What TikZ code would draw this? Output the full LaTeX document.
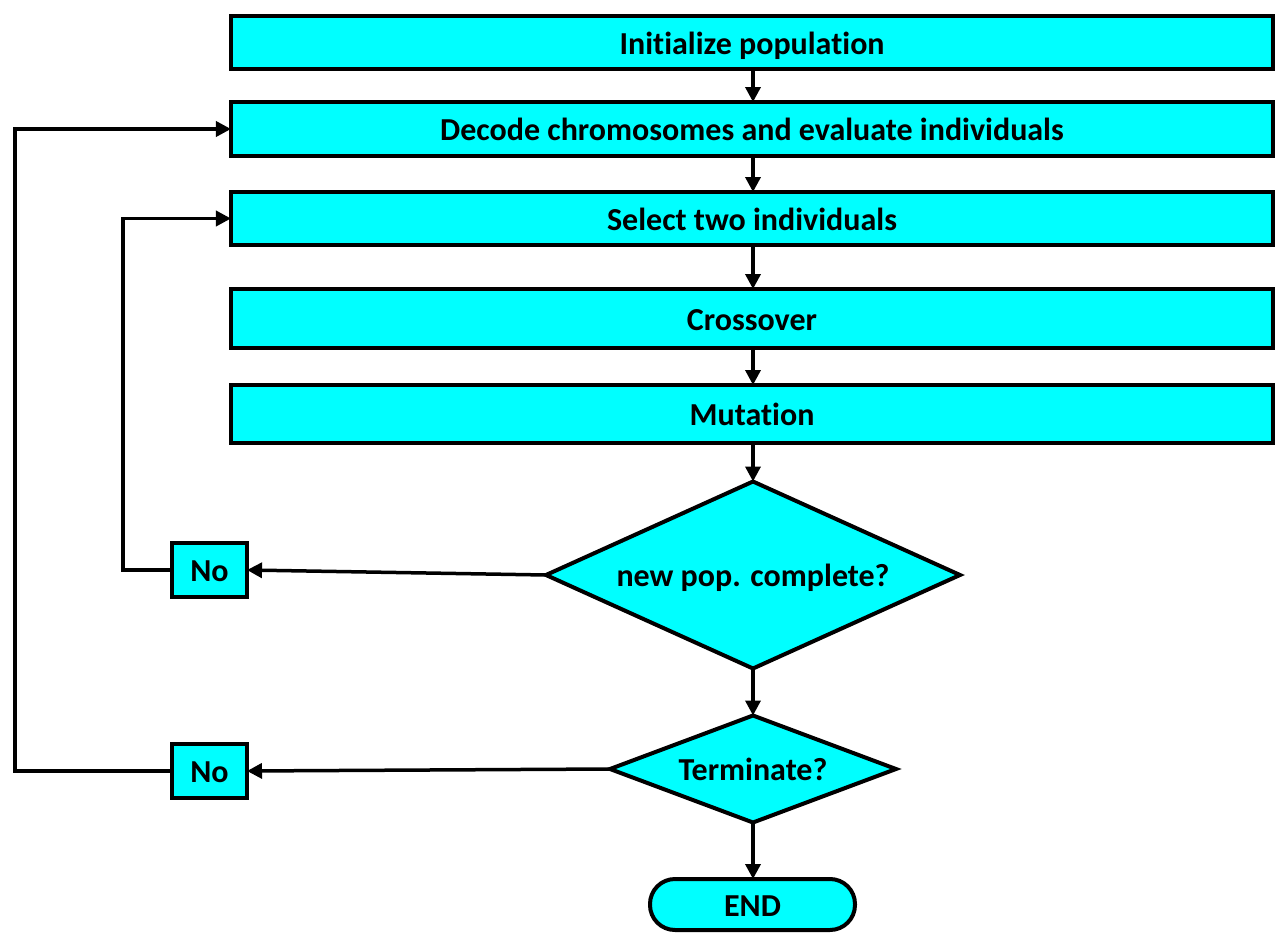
\documentclass[tikz,border=0pt]{standalone}
\usepackage{fontspec}
\setmainfont[Ligatures=NoCommon]{Carlito}
\usetikzlibrary{shapes.geometric,arrows.meta}
\definecolor{boxfill}{RGB}{0,255,255}
\begin{document}
\begin{tikzpicture}[x=1bp,y=-1bp,
  every node/.style={font=\fontsize{32bp}{36bp}\selectfont\bfseries, inner sep=0pt, outer sep=0pt,
    text height=25bp, text depth=2bp},
  stepbox/.style={draw=black, line width=4bp, fill=boxfill, minimum width=1042bp},
  decision/.style={draw=black, line width=4bp, fill=boxfill, diamond},
  nobox/.style={draw=black, line width=4bp, fill=boxfill, minimum width=75bp, minimum height=54bp},
  endbox/.style={draw=black, line width=4bp, fill=boxfill, rounded corners=25bp, minimum width=205bp, minimum height=51bp},
  flow/.style={draw=black, line width=3.5bp, -{Triangle[length=15bp,width=15bp]}}
]
\useasboundingbox (0,0) rectangle (1278,937);

% process steps
\node[stepbox, minimum height=53bp] (init) at (752,42.5) {Initialize population};
\node[stepbox, minimum height=54bp] (decode) at (752,129) {Decode chromosomes and evaluate individuals};
\node[stepbox, minimum height=53bp] (select) at (752,218.5) {Select two individuals};
\node[stepbox, minimum height=59bp] (cross) at (752,318.5) {Crossover};
\node[stepbox, minimum height=58bp] (mut) at (752,414) {Mutation};

% decisions and terminal
\node[decision, aspect=2.2, minimum width=414bp, minimum height=187bp] (full) at (753,575) {new pop. complete?};
\node[decision, aspect=2.67, minimum width=286bp, minimum height=107bp] (term) at (753,769) {Terminate?};
\node[endbox] (end) at (752.5,904.5) {END};

% "No" branches
\node[nobox] (no1) at (209.5,570) {No};
\node[nobox] (no2) at (209.5,771) {No};

\coordinate (innerturn) at (123,218.5);
\coordinate (outerturn) at (15,129);

% main flow
\draw[flow] (init.south -| 753,0) -- (decode.north -| 753,0);
\draw[flow] (decode.south -| 753,0) -- (select.north -| 753,0);
\draw[flow] (select.south -| 753,0) -- (cross.north -| 753,0);
\draw[flow] (cross.south -| 753,0) -- (mut.north -| 753,0);
\draw[flow] (mut.south -| 753,0) -- (full.north);
\draw[flow] (full.south) -- (term.north);
\draw[flow] (term.south) -- (end.north -| term.south);

% loops back
\draw[flow] (full.west) -- (no1.east);
\draw[flow] (term.west) -- (no2.east);
\draw[flow] (no1.west) -- (no1.west -| innerturn) -- (innerturn) -- (select.west);
\draw[flow] (no2.west) -- (no2.west -| outerturn) -- (outerturn) -- (decode.west);
\end{tikzpicture}
\end{document}
